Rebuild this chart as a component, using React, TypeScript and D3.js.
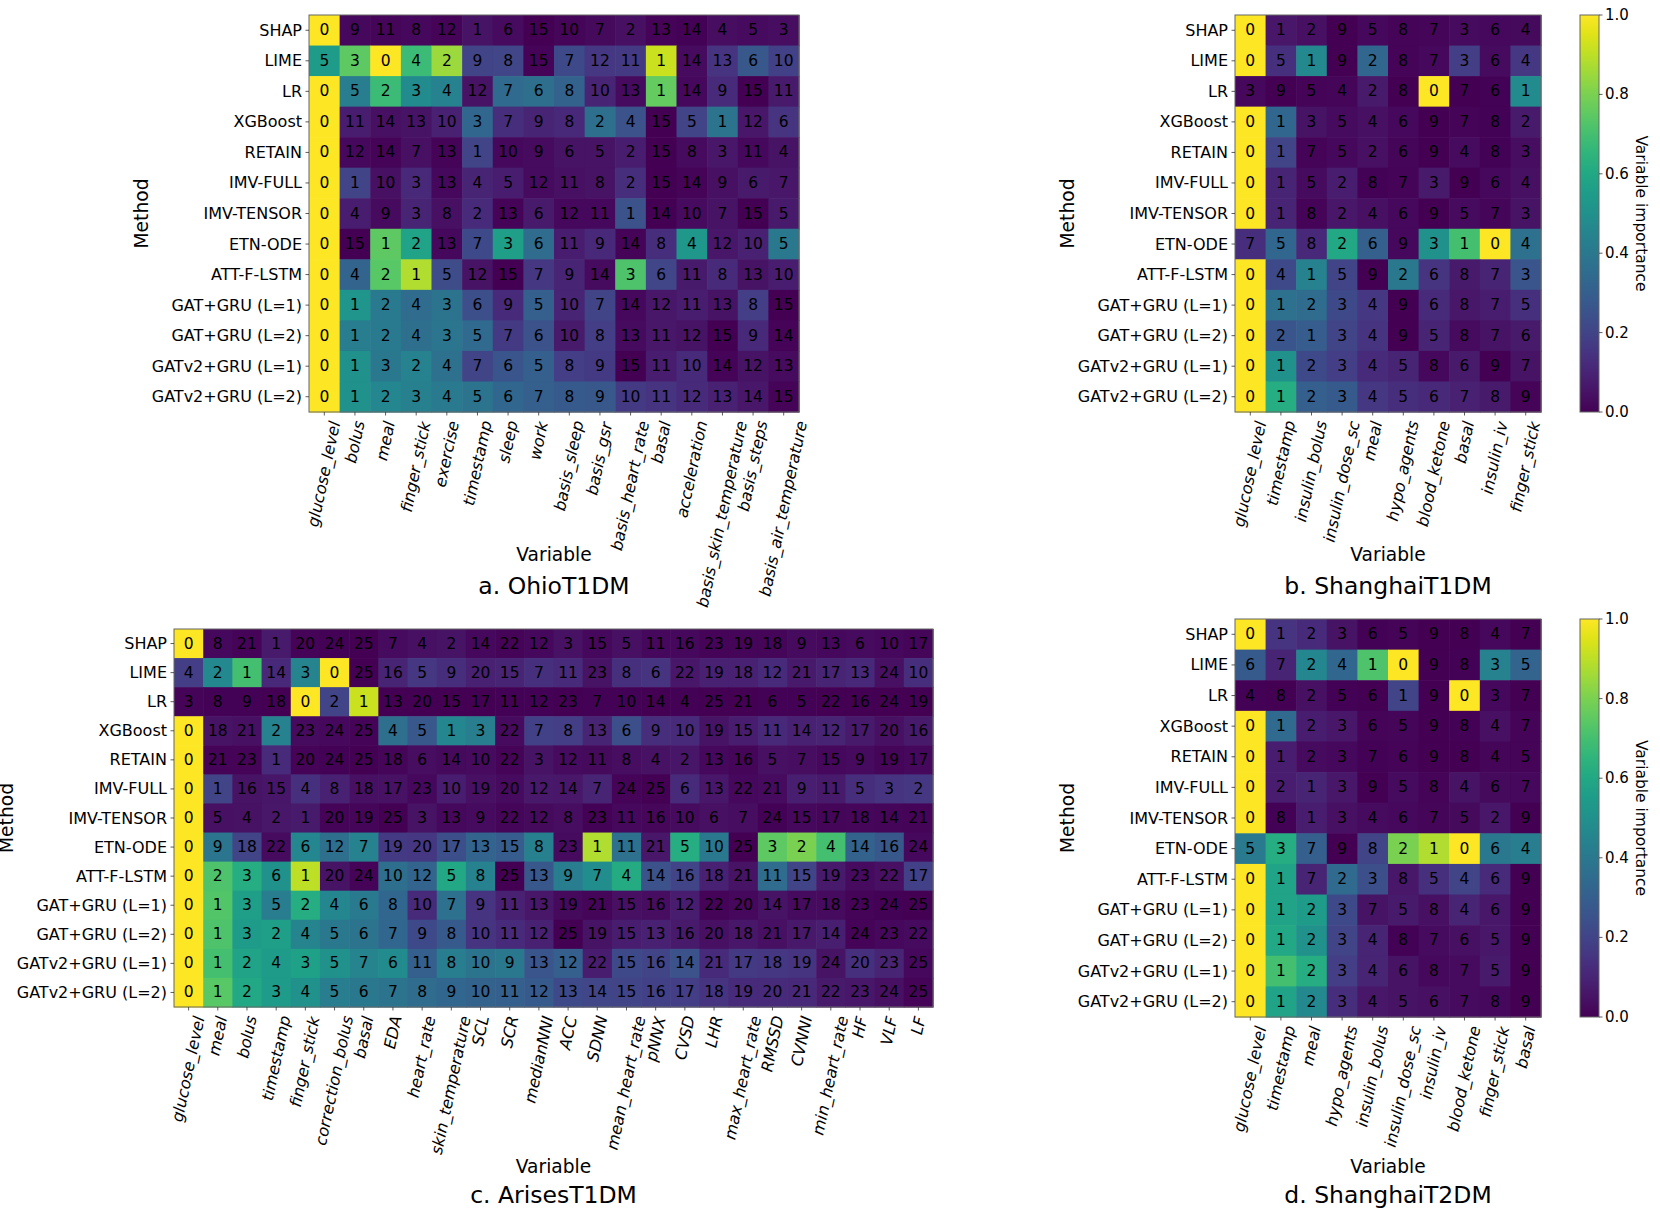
import React, { useRef, useEffect } from "react";
import * as d3 from "d3";

const methods = [
  "SHAP", "LIME", "LR", "XGBoost", "RETAIN", "IMV-FULL", "IMV-TENSOR", "ETN-ODE",
  "ATT-F-LSTM", "GAT+GRU (L=1)", "GAT+GRU (L=2)", "GATv2+GRU (L=1)", "GATv2+GRU (L=2)"
];

// a. OhioT1DM
const ohioVars = [
  "glucose_level", "bolus", "meal", "finger_stick", "exercise", "timestamp", "sleep", "work",
  "basis_sleep", "basis_gsr", "basis_heart_rate", "basal", "acceleration",
  "basis_skin_temperature", "basis_steps", "basis_air_temperature"
];
const ohioRanks = [
  [0, 9, 11, 8, 12, 1, 6, 15, 10, 7, 2, 13, 14, 4, 5, 3],
  [5, 3, 0, 4, 2, 9, 8, 15, 7, 12, 11, 1, 14, 13, 6, 10],
  [0, 5, 2, 3, 4, 12, 7, 6, 8, 10, 13, 1, 14, 9, 15, 11],
  [0, 11, 14, 13, 10, 3, 7, 9, 8, 2, 4, 15, 5, 1, 12, 6],
  [0, 12, 14, 7, 13, 1, 10, 9, 6, 5, 2, 15, 8, 3, 11, 4],
  [0, 1, 10, 3, 13, 4, 5, 12, 11, 8, 2, 15, 14, 9, 6, 7],
  [0, 4, 9, 3, 8, 2, 13, 6, 12, 11, 1, 14, 10, 7, 15, 5],
  [0, 15, 1, 2, 13, 7, 3, 6, 11, 9, 14, 8, 4, 12, 10, 5],
  [0, 4, 2, 1, 5, 12, 15, 7, 9, 14, 3, 6, 11, 8, 13, 10],
  [0, 1, 2, 4, 3, 6, 9, 5, 10, 7, 14, 12, 11, 13, 8, 15],
  [0, 1, 2, 4, 3, 5, 7, 6, 10, 8, 13, 11, 12, 15, 9, 14],
  [0, 1, 3, 2, 4, 7, 6, 5, 8, 9, 15, 11, 10, 14, 12, 13],
  [0, 1, 2, 3, 4, 5, 6, 7, 8, 9, 10, 11, 12, 13, 14, 15]
];
const ohioImportance = [
  [1, .02, .015, .02, .01, .05, .03, 0, .015, .025, .04, .01, .005, .035, .03, .035],
  [.55, .75, 1, .68, .85, .2, .21, .01, .22, .16, .17, .92, .03, .15, .27, .19],
  [1, .42, .68, .48, .44, .05, .34, .36, .31, .1, .03, .76, .02, .12, 0, .07],
  [1, .08, .04, .05, .09, .33, .13, .1, .11, .36, .25, 0, .2, .38, .06, .15],
  [1, .02, .01, .04, .01, .2, .02, .03, .05, .05, .08, 0, .03, .06, .02, .05],
  [1, .2, .04, .11, .02, .1, .08, .03, .04, .05, .13, 0, .01, .04, .07, .06],
  [1, .08, .03, .1, .04, .12, .01, .07, .02, .02, .25, 0, .03, .05, 0, .07],
  [1, 0, .75, .58, .02, .22, .56, .35, .08, .11, .01, .13, .53, .06, .09, .4],
  [1, .32, .74, .88, .23, .05, 0, .16, .1, .03, .72, .21, .07, .12, .05, .08],
  [1, .52, .41, .35, .38, .24, .12, .3, .1, .2, .02, .06, .08, .05, .18, 0],
  [1, .42, .41, .36, .39, .34, .17, .25, .07, .18, .03, .06, .05, 0, .11, .01],
  [1, .5, .4, .44, .37, .2, .26, .3, .18, .17, 0, .08, .12, .01, .05, .03],
  [1, .5, .46, .43, .41, .38, .33, .3, .28, .27, .17, .15, .12, .09, .06, .01]
];

// b. ShanghaiT1DM
const t1Vars = [
  "glucose_level", "timestamp", "insulin_bolus", "insulin_dose_sc", "meal",
  "hypo_agents", "blood_ketone", "basal", "insulin_iv", "finger_stick"
];
const t1Ranks = [
  [0, 1, 2, 9, 5, 8, 7, 3, 6, 4],
  [0, 5, 1, 9, 2, 8, 7, 3, 6, 4],
  [3, 9, 5, 4, 2, 8, 0, 7, 6, 1],
  [0, 1, 3, 5, 4, 6, 9, 7, 8, 2],
  [0, 1, 7, 5, 2, 6, 9, 4, 8, 3],
  [0, 1, 5, 2, 8, 7, 3, 9, 6, 4],
  [0, 1, 8, 2, 4, 6, 9, 5, 7, 3],
  [7, 5, 8, 2, 6, 9, 3, 1, 0, 4],
  [0, 4, 1, 5, 9, 2, 6, 8, 7, 3],
  [0, 1, 2, 3, 4, 9, 6, 8, 7, 5],
  [0, 2, 1, 3, 4, 9, 5, 8, 7, 6],
  [0, 1, 2, 3, 4, 5, 8, 6, 9, 7],
  [0, 1, 2, 3, 4, 5, 6, 7, 8, 9]
];
const t1Importance = [
  [1, .06, .04, 0, .02, .01, .015, .03, .02, .025],
  [1, .14, .47, 0, .33, .01, .02, .18, .03, .16],
  [.02, 0, .01, .015, .07, 0, 1, 0, .005, .48],
  [1, .33, .05, .03, .04, .02, 0, .01, .005, .07],
  [1, .2, .01, .02, .04, .015, 0, .03, .005, .035],
  [1, .1, .03, .08, .005, .01, .07, 0, .02, .04],
  [1, .1, .01, .06, .04, .02, 0, .03, .015, .05],
  [.13, .33, .11, .6, .3, .02, .5, .7, 1, .37],
  [1, .22, .44, .2, 0, .4, .15, .07, .1, .26],
  [1, .37, .35, .22, .16, 0, .12, .06, .08, .14],
  [1, .26, .29, .2, .15, 0, .1, .03, .05, .07],
  [1, .5, .22, .18, .12, .1, .02, .07, 0, .05],
  [1, .62, .3, .28, .16, .13, .11, .09, .07, .01]
];

// c. ArisesT1DM
const arisesVars = [
  "glucose_level", "meal", "bolus", "timestamp", "finger_stick", "correction_bolus", "basal",
  "EDA", "heart_rate", "skin_temperature", "SCL", "SCR", "medianNNI", "ACC", "SDNN",
  "mean_heart_rate", "pNNX", "CVSD", "LHR", "max_heart_rate", "RMSSD", "CVNNI",
  "min_heart_rate", "HF", "VLF", "LF"
];
const arisesRanks = [
  [0, 8, 21, 1, 20, 24, 25, 7, 4, 2, 14, 22, 12, 3, 15, 5, 11, 16, 23, 19, 18, 9, 13, 6, 10, 17],
  [4, 2, 1, 14, 3, 0, 25, 16, 5, 9, 20, 15, 7, 11, 23, 8, 6, 22, 19, 18, 12, 21, 17, 13, 24, 10],
  [3, 8, 9, 18, 0, 2, 1, 13, 20, 15, 17, 11, 12, 23, 7, 10, 14, 4, 25, 21, 6, 5, 22, 16, 24, 19],
  [0, 18, 21, 2, 23, 24, 25, 4, 5, 1, 3, 22, 7, 8, 13, 6, 9, 10, 19, 15, 11, 14, 12, 17, 20, 16],
  [0, 21, 23, 1, 20, 24, 25, 18, 6, 14, 10, 22, 3, 12, 11, 8, 4, 2, 13, 16, 5, 7, 15, 9, 19, 17],
  [0, 1, 16, 15, 4, 8, 18, 17, 23, 10, 19, 20, 12, 14, 7, 24, 25, 6, 13, 22, 21, 9, 11, 5, 3, 2],
  [0, 5, 4, 2, 1, 20, 19, 25, 3, 13, 9, 22, 12, 8, 23, 11, 16, 10, 6, 7, 24, 15, 17, 18, 14, 21],
  [0, 9, 18, 22, 6, 12, 7, 19, 20, 17, 13, 15, 8, 23, 1, 11, 21, 5, 10, 25, 3, 2, 4, 14, 16, 24],
  [0, 2, 3, 6, 1, 20, 24, 10, 12, 5, 8, 25, 13, 9, 7, 4, 14, 16, 18, 21, 11, 15, 19, 23, 22, 17],
  [0, 1, 3, 5, 2, 4, 6, 8, 10, 7, 9, 11, 13, 19, 21, 15, 16, 12, 22, 20, 14, 17, 18, 23, 24, 25],
  [0, 1, 3, 2, 4, 5, 6, 7, 9, 8, 10, 11, 12, 25, 19, 15, 13, 16, 20, 18, 21, 17, 14, 24, 23, 22],
  [0, 1, 2, 4, 3, 5, 7, 6, 11, 8, 10, 9, 13, 12, 22, 15, 16, 14, 21, 17, 18, 19, 24, 20, 23, 25],
  [0, 1, 2, 3, 4, 5, 6, 7, 8, 9, 10, 11, 12, 13, 14, 15, 16, 17, 18, 19, 20, 21, 22, 23, 24, 25]
];
const arisesImportance = [
  [1, .02, .01, .07, .01, .005, 0, .03, .04, .05, .02, .01, .02, .045, .02, .04, .02, .02, .01, .015, .015, .03, .02, .03, .02, .015],
  [.18, .47, .7, .11, .45, 1, 0, .1, .16, .13, .09, .1, .14, .12, .05, .14, .15, .06, .09, .09, .12, .07, .1, .11, .04, .13],
  [.01, .005, .005, 0, 1, .2, .92, .003, .002, .003, .003, .004, .004, .002, .005, .004, .003, .006, .001, .002, .005, .005, .002, .003, .002, .002],
  [1, .05, .04, .44, .03, .02, .01, .36, .27, .46, .42, .03, .19, .18, .1, .24, .13, .12, .05, .08, .11, .09, .1, .07, .04, .07],
  [1, .01, .01, .12, .01, .005, 0, .015, .035, .025, .03, .01, .05, .03, .025, .035, .045, .055, .02, .015, .04, .035, .02, .03, .015, .02],
  [1, .2, .05, .055, .14, .09, .04, .045, .02, .075, .04, .03, .065, .06, .1, .01, 0, .12, .062, .02, .03, .085, .07, .13, .15, .16],
  [1, .04, .045, .06, .07, .01, .015, 0, .05, .022, .03, .012, .025, .032, .005, .02, .018, .028, .04, .035, .005, .02, .015, .018, .015, .01],
  [1, .39, .2, .03, .46, .36, .44, .17, .16, .24, .32, .29, .43, .03, .88, .37, .06, .62, .4, 0, .75, .8, .7, .31, .27, .02],
  [1, .72, .62, .5, .9, .05, .01, .36, .32, .6, .44, 0, .27, .42, .49, .61, .25, .2, .09, .05, .35, .2, .07, .03, .04, .19],
  [1, .73, .56, .42, .62, .46, .41, .33, .12, .37, .15, .09, .06, .025, .015, .04, .035, .08, .01, .02, .05, .03, .028, .01, .005, 0],
  [1, .72, .55, .56, .45, .4, .38, .33, .22, .28, .15, .12, .09, 0, .05, .08, .09, .07, .04, .06, .04, .065, .085, .01, .02, .03],
  [1, .7, .58, .55, .57, .5, .45, .48, .3, .42, .38, .4, .26, .3, .08, .22, .2, .25, .12, .17, .16, .15, .05, .14, .1, .02],
  [1, .74, .6, .55, .5, .42, .4, .38, .35, .33, .31, .3, .28, .22, .21, .2, .19, .18, .15, .12, .12, .11, .07, .06, .04, .01]
];

// d. ShanghaiT2DM
const t2Vars = [
  "glucose_level", "timestamp", "meal", "hypo_agents", "insulin_bolus", "insulin_dose_sc",
  "insulin_iv", "blood_ketone", "finger_stick", "basal"
];
const t2Ranks = [
  [0, 1, 2, 3, 6, 5, 9, 8, 4, 7],
  [6, 7, 2, 4, 1, 0, 9, 8, 3, 5],
  [4, 8, 2, 5, 6, 1, 9, 0, 3, 7],
  [0, 1, 2, 3, 6, 5, 9, 8, 4, 7],
  [0, 1, 2, 3, 7, 6, 9, 8, 4, 5],
  [0, 2, 1, 3, 9, 5, 8, 4, 6, 7],
  [0, 8, 1, 3, 4, 6, 7, 5, 2, 9],
  [5, 3, 7, 9, 8, 2, 1, 0, 6, 4],
  [0, 1, 7, 2, 3, 8, 5, 4, 6, 9],
  [0, 1, 2, 3, 7, 5, 8, 4, 6, 9],
  [0, 1, 2, 3, 4, 8, 7, 6, 5, 9],
  [0, 1, 2, 3, 4, 6, 8, 7, 5, 9],
  [0, 1, 2, 3, 4, 5, 6, 7, 8, 9]
];
const t2Importance = [
  [1, .15, .12, .05, .005, .01, 0, .002, .02, .003],
  [.28, .1, .46, .33, .72, 1, 0, .005, .44, .32],
  [.005, 0, .04, .005, .003, .2, 0, 1, .02, .001],
  [1, .34, .08, .06, .01, .015, 0, .005, .04, .008],
  [1, .08, .03, .02, .005, .008, 0, .003, .015, .01],
  [1, .08, .1, .06, 0, .03, .01, .05, .025, .02],
  [1, .005, .08, .04, .03, .02, .015, .025, .06, 0],
  [.41, .62, .3, 0, .2, .8, .88, 1, .4, .42],
  [1, .58, .1, .34, .24, .06, .14, .2, .12, 0],
  [1, .58, .55, .22, .05, .07, .04, .1, .06, 0],
  [1, .6, .5, .2, .1, .005, .03, .04, .06, 0],
  [1, .7, .62, .18, .1, .05, .02, .03, .07, 0],
  [1, .58, .47, .13, .06, .05, .04, .03, .02, 0]
];

const colorbarTicks = [0, 0.2, 0.4, 0.6, 0.8, 1.0];

const panels = [
  { title: "a. OhioT1DM", vars: ohioVars, ranks: ohioRanks, imp: ohioImportance,
    x0: 309, x1: 799, y0: 15, y1: 412, xlabelY: 554, titleY: 586, colorbar: false },
  { title: "b. ShanghaiT1DM", vars: t1Vars, ranks: t1Ranks, imp: t1Importance,
    x0: 1235, x1: 1541, y0: 15, y1: 412, xlabelY: 554, titleY: 586, colorbar: true },
  { title: "c. ArisesT1DM", vars: arisesVars, ranks: arisesRanks, imp: arisesImportance,
    x0: 174, x1: 933, y0: 629, y1: 1007, xlabelY: 1166, titleY: 1195, colorbar: false },
  { title: "d. ShanghaiT2DM", vars: t2Vars, ranks: t2Ranks, imp: t2Importance,
    x0: 1235, x1: 1541, y0: 619, y1: 1017, xlabelY: 1166, titleY: 1195, colorbar: true }
];

const FONT = "'DejaVu Sans', sans-serif";
const color = d3.scaleSequential(d3.interpolateViridis).domain([0, 1]);

const App = () => {
  const svgRef = useRef<SVGSVGElement>(null);

  useEffect(() => {
    const svg = d3.select(svgRef.current);
    svg.selectAll("*").remove();

    // gradient for colorbars
    const grad = svg.append("defs").append("linearGradient")
      .attr("id", "viridis").attr("x1", 0).attr("y1", 1).attr("x2", 0).attr("y2", 0);
    d3.range(0, 1.0001, 0.05).forEach(t => {
      grad.append("stop").attr("offset", t).attr("stop-color", color(t));
    });

    panels.forEach(p => {
      const g = svg.append("g").style("font-family", FONT);
      const x = d3.scaleBand().domain(p.vars).range([p.x0, p.x1]);
      const y = d3.scaleBand().domain(methods).range([p.y0, p.y1]);

      // cells
      methods.forEach((m, i) => {
        p.vars.forEach((v, j) => {
          g.append("rect")
            .attr("x", x(v)!)
            .attr("y", y(m)!)
            .attr("width", x.bandwidth() + 0.6)
            .attr("height", y.bandwidth() + 0.6)
            .attr("fill", color(p.imp[i][j]));
        });
      });
      methods.forEach((m, i) => {
        p.vars.forEach((v, j) => {
          g.append("text")
            .attr("x", x(v)! + x.bandwidth() / 2)
            .attr("y", y(m)! + y.bandwidth() / 2)
            .attr("text-anchor", "middle")
            .attr("dominant-baseline", "central")
            .style("font-size", "15.5px")
            .attr("fill", "#000")
            .text(p.ranks[i][j]);
        });
      });

      // frame
      g.append("rect")
        .attr("x", p.x0).attr("y", p.y0)
        .attr("width", p.x1 - p.x0).attr("height", p.y1 - p.y0)
        .attr("fill", "none").attr("stroke", "#666").attr("stroke-width", 1);

      // y ticks
      methods.forEach(m => {
        const cy = y(m)! + y.bandwidth() / 2;
        g.append("line").attr("x1", p.x0 - 3.5).attr("x2", p.x0).attr("y1", cy).attr("y2", cy)
          .attr("stroke", "#333").attr("stroke-width", 0.8);
        g.append("text")
          .attr("x", p.x0 - 7).attr("y", cy)
          .attr("text-anchor", "end").attr("dominant-baseline", "central")
          .style("font-size", "16px").text(m);
      });

      // x ticks, rotated italic labels
      p.vars.forEach(v => {
        const cx = x(v)! + x.bandwidth() / 2;
        g.append("line").attr("x1", cx).attr("x2", cx).attr("y1", p.y1).attr("y2", p.y1 + 3.5)
          .attr("stroke", "#333").attr("stroke-width", 0.8);
        const lg = g.append("g");
        lg.append("text")
          .attr("transform", "rotate(-78)")
          .attr("text-anchor", "end")
          .attr("dominant-baseline", "central")
          .style("font-size", "16px")
          .style("font-style", "italic")
          .text(v);
        const bb = (lg.node() as SVGGElement).getBBox();
        lg.attr("transform", `translate(${cx - (bb.x + bb.width / 2)},${p.y1 + 7 - bb.y})`);
      });

      // axis labels
      const cxMid = (p.x0 + p.x1) / 2;
      g.append("text").attr("x", cxMid).attr("y", p.xlabelY)
        .attr("text-anchor", "middle").attr("dominant-baseline", "central")
        .style("font-size", "18.6px").text("Variable");
      g.append("text").attr("x", cxMid).attr("y", p.titleY)
        .attr("text-anchor", "middle").attr("dominant-baseline", "central")
        .style("font-size", "23.5px").text(p.title);
      const my = (p.y0 + p.y1) / 2;
      const mx = p.x0 - 168;
      g.append("text")
        .attr("transform", `translate(${mx},${my}) rotate(-90)`)
        .attr("text-anchor", "middle").attr("dominant-baseline", "central")
        .style("font-size", "18.7px").text("Method");

      // colorbar
      if (p.colorbar) {
        const cbx0 = 1580, cbx1 = 1599;
        const cy = d3.scaleLinear().domain([0, 1]).range([p.y1, p.y0]);
        g.append("rect").attr("x", cbx0).attr("y", p.y0)
          .attr("width", cbx1 - cbx0).attr("height", p.y1 - p.y0)
          .attr("fill", "url(#viridis)").attr("stroke", "#666").attr("stroke-width", 1);
        colorbarTicks.forEach(t => {
          g.append("line").attr("x1", cbx1).attr("x2", cbx1 + 3.5).attr("y1", cy(t)).attr("y2", cy(t))
            .attr("stroke", "#333").attr("stroke-width", 0.8);
          g.append("text").attr("x", cbx1 + 6).attr("y", cy(t))
            .attr("dominant-baseline", "central").style("font-size", "15px")
            .text(d3.format(".1f")(t));
        });
        g.append("text")
          .attr("transform", `translate(1641,${(p.y0 + p.y1) / 2}) rotate(90)`)
          .attr("text-anchor", "middle").attr("dominant-baseline", "central")
          .style("font-size", "15.5px").text("Variable importance");
      }
    });
  }, []);

  return (
    <svg
      ref={svgRef}
      width={1660}
      height={1214}
      style={{ position: "absolute", left: 0, top: 0, background: "#fff" }}
    />
  );
};

export default App;
